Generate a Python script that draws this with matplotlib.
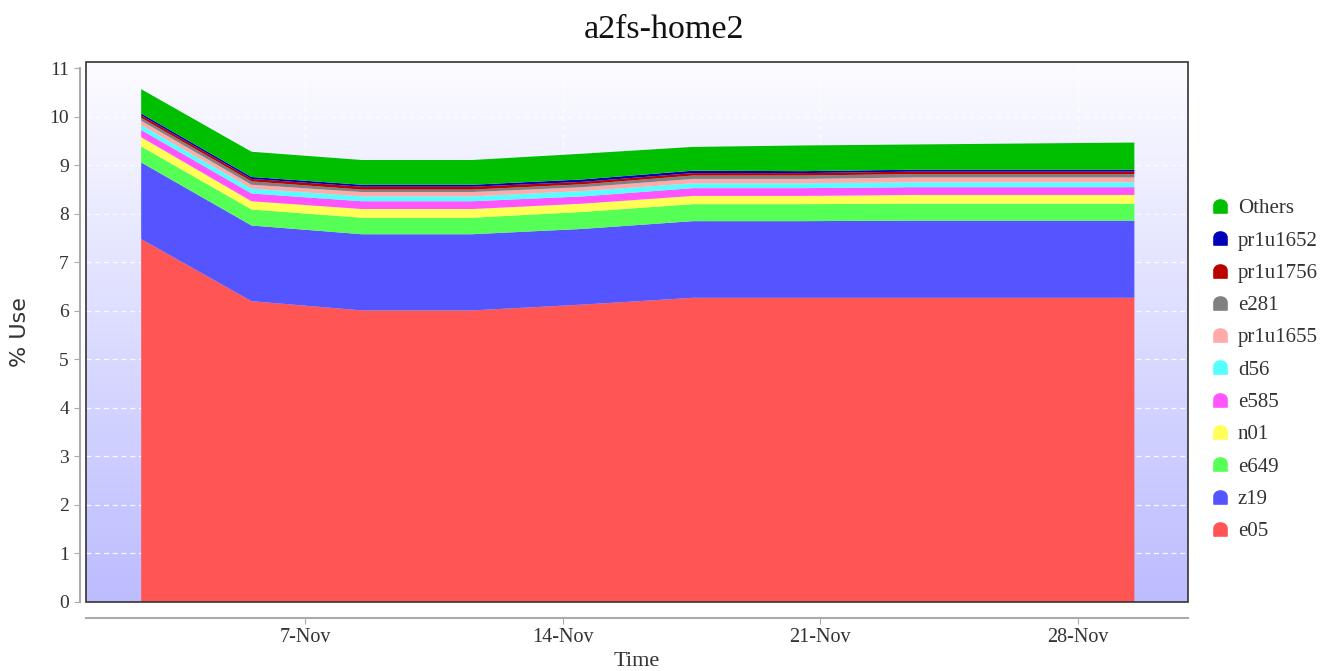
import numpy as np
import matplotlib
matplotlib.use("Agg")
import matplotlib.pyplot as plt
import matplotlib.dates as mdates
from matplotlib.path import Path
from matplotlib.lines import Line2D
from matplotlib.patches import Rectangle
import datetime as dt

# ---- data ----
dates = [dt.datetime(2023, 11, 2, 13) + dt.timedelta(days=3 * i) for i in range(10)]
e05      = [7.48, 6.20, 6.01, 6.01, 6.13, 6.27, 6.27, 6.27, 6.27, 6.27]
z19      = [1.58, 1.56, 1.57, 1.57, 1.56, 1.58, 1.58, 1.59, 1.59, 1.59]
e649     = [0.33, 0.33, 0.34, 0.34, 0.35, 0.35, 0.35, 0.35, 0.35, 0.35]
n01      = [0.19, 0.17, 0.18, 0.18, 0.17, 0.17, 0.17, 0.18, 0.18, 0.18]
e585     = [0.15, 0.16, 0.16, 0.16, 0.15, 0.16, 0.16, 0.16, 0.16, 0.16]
d56      = [0.10, 0.10, 0.10, 0.10, 0.11, 0.10, 0.10, 0.10, 0.10, 0.10]
pr1u1655 = [0.09, 0.08, 0.09, 0.09, 0.08, 0.09, 0.09, 0.10, 0.10, 0.10]
e281     = [0.06, 0.07, 0.05, 0.05, 0.06, 0.07, 0.07, 0.07, 0.07, 0.07]
pr1u1756 = [0.05, 0.05, 0.06, 0.06, 0.05, 0.05, 0.05, 0.05, 0.05, 0.05]
pr1u1652 = [0.04, 0.04, 0.04, 0.04, 0.05, 0.05, 0.04, 0.04, 0.04, 0.04]
others   = [0.50, 0.52, 0.51, 0.51, 0.53, 0.49, 0.53, 0.52, 0.54, 0.56]

series_names = ["e05", "z19", "e649", "n01", "e585", "d56", "pr1u1655",
                "e281", "pr1u1756", "pr1u1652", "Others"]
series_vals = [e05, z19, e649, n01, e585, d56, pr1u1655, e281, pr1u1756,
               pr1u1652, others]
colors = ["#FF5555", "#5555FF", "#55FF55", "#FFFF55", "#FF55FF", "#55FFFF",
          "#FFAAAA", "#808080", "#BB0000", "#0000BB", "#00BF00"]

serif = ["Liberation Serif", "DejaVu Serif"]

fig = plt.figure(figsize=(13.28, 6.71), dpi=100)
ax = fig.add_axes([86 / 1328, 1 - 602 / 671, (1188 - 86) / 1328, (602 - 62) / 671])

# background gradient
grad = np.linspace(0, 1, 256).reshape(-1, 1)
top = np.array([252, 252, 255]) / 255
bot = np.array([188, 188, 255]) / 255
img = top[None, None, :] * (1 - grad[:, :, None]) + bot[None, None, :] * grad[:, :, None]
ax.imshow(img, extent=[0, 1, 0, 1], transform=ax.transAxes, aspect="auto", zorder=0)

ax.stackplot(dates, *series_vals, colors=colors, linewidth=0, zorder=2)

ax.set_xlim(dt.datetime(2023, 11, 1, 1), dt.datetime(2023, 12, 1, 0))
ax.set_ylim(0, 11.13)
ax.set_yticks(range(0, 12))
ax.xaxis.set_major_locator(mdates.DayLocator(bymonthday=[7, 14, 21, 28]))
ax.xaxis.set_major_formatter(mdates.DateFormatter("%-d-%b"))

ax.grid(True, color="white", linestyle=(0, (4, 3)), linewidth=0.9, alpha=0.9, zorder=1)
ax.set_axisbelow(True)

for s in ["top", "right"]:
    ax.spines[s].set_visible(False)
ax.spines["left"].set_position(("outward", 4.3))
ax.spines["bottom"].set_position(("outward", 11.5))
ax.spines["left"].set_bounds(0, 11)
for s in ["left", "bottom"]:
    ax.spines[s].set_color("#AAAAAA")
    ax.spines[s].set_linewidth(1.5)
ax.add_patch(Rectangle((0, 0), 1, 1, transform=ax.transAxes, fill=False,
                       edgecolor="#333333", linewidth=1.2, zorder=5, clip_on=False))

ax.tick_params(axis="both", colors="#AAAAAA", labelcolor="#333333", length=4)
ax.tick_params(axis="x", labelsize=14.5, pad=3)
ax.tick_params(axis="y", labelsize=14, pad=4)
for lab in ax.get_xticklabels() + ax.get_yticklabels():
    lab.set_fontfamily(serif)

ax.set_xlabel("Time", fontsize=16, family=serif, color="#333333", labelpad=4)
ax.set_ylabel("% Use", fontsize=16, family=["DejaVu Sans"], color="#333333", labelpad=14)
fig.suptitle("a2fs-home2", fontsize=24.5, family=serif, color="#111111", y=0.978)

# legend with rounded-top markers
verts = [(-1, -1), (1, -1), (1, 0.1), (1, 0.7), (0.5, 1), (0, 1),
         (-0.5, 1), (-1, 0.7), (-1, 0.1), (-1, -1)]
codes = [Path.MOVETO, Path.LINETO, Path.LINETO, Path.CURVE4, Path.CURVE4, Path.CURVE4,
         Path.CURVE4, Path.CURVE4, Path.CURVE4, Path.CLOSEPOLY]
mk = Path(verts, codes)
handles = [Line2D([], [], linestyle="none", marker=mk, markersize=9.5,
                  markerfacecolor=c, markeredgecolor=c)
           for c in colors[::-1]]
leg = fig.legend(handles, series_names[::-1], loc="upper left",
                 bbox_to_anchor=(1193 / 1328, 1 - 180 / 671), frameon=False,
                 prop={"family": serif, "size": 15}, labelspacing=0.61,
                 handlelength=0.8, handletextpad=0.45, labelcolor="#333333")

fig.savefig("out.png", dpi=100)
